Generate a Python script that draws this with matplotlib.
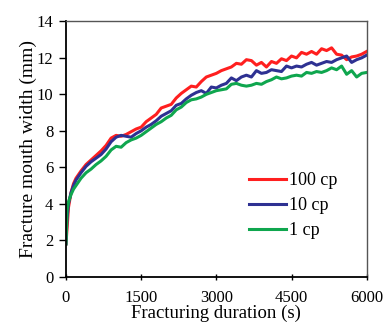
import matplotlib
matplotlib.use("Agg")
import matplotlib.pyplot as plt

t = [0, 20, 50, 100, 150, 200] + list(range(300, 6001, 100))

red_100cp = [1.8, 2.6, 3.8, 4.6, 5.1, 5.4, 5.8, 6.15, 6.4, 6.65, 6.9, 7.2, 7.6, 7.75,
             7.7, 7.8, 7.95, 8.1, 8.2, 8.5, 8.7, 8.9, 9.25, 9.35, 9.45, 9.8, 10.05,
             10.25, 10.45, 10.4, 10.7, 10.95, 11.05, 11.15, 11.3, 11.4, 11.5, 11.7,
             11.65, 11.9, 11.85, 11.6, 11.75, 11.5, 11.8, 11.7, 11.95, 11.85, 12.1,
             12.0, 12.3, 12.2, 12.35, 12.2, 12.5, 12.4, 12.55, 12.2, 12.15, 11.9,
             12.05, 12.1, 12.2, 12.35]
blue_10cp = [1.8, 3.2, 4.0, 4.6, 5.0, 5.3, 5.7, 6.05, 6.3, 6.5, 6.7, 7.0, 7.4, 7.65,
             7.75, 7.7, 7.65, 7.85, 8.0, 8.2, 8.35, 8.55, 8.8, 8.95, 9.1, 9.4, 9.5,
             9.75, 9.95, 10.1, 10.2, 10.05, 10.4, 10.35, 10.5, 10.6, 10.9, 10.75,
             10.95, 11.05, 10.95, 11.3, 11.15, 11.2, 11.35, 11.3, 11.25, 11.55, 11.45,
             11.55, 11.5, 11.65, 11.75, 11.6, 11.7, 11.8, 11.75, 11.9, 12.0, 12.1,
             11.75, 11.9, 12.0, 12.15]
green_1cp = [1.8, 3.6, 4.1, 4.5, 4.8, 5.0, 5.4, 5.7, 5.9, 6.15, 6.35, 6.6, 6.95, 7.15,
             7.1, 7.35, 7.5, 7.6, 7.75, 7.95, 8.15, 8.35, 8.5, 8.7, 8.85, 9.15, 9.3,
             9.55, 9.7, 9.75, 9.85, 10.0, 10.1, 10.2, 10.25, 10.3, 10.55, 10.6, 10.5,
             10.45, 10.5, 10.6, 10.55, 10.7, 10.8, 10.95, 10.85, 10.9, 11.0, 11.05,
             11.0, 11.2, 11.15, 11.25, 11.2, 11.3, 11.45, 11.35, 11.55, 11.1, 11.3,
             10.95, 11.15, 11.2]

labels = ["100 cp", "10 cp", "1 cp"]
colors = ["#FF1F1F", "#2E3192", "#0FA64E"]
xticks = [0, 1500, 3000, 4500, 6000]
yticks = [0, 2, 4, 6, 8, 10, 12, 14]

plt.rcParams['font.family'] = ['Liberation Serif', 'DejaVu Serif']

fig = plt.figure(figsize=(3.85, 3.24), dpi=100)
ax = fig.add_axes([0.1714, 0.146, 0.781, 0.788])

for ys, lab, c in zip([red_100cp, blue_10cp, green_1cp], labels, colors):
    ax.plot(t, ys, color=c, lw=2.2, label=lab)

ax.set_xlim(0, 6000)
ax.set_ylim(0, 14)
ax.set_xticks(xticks)
ax.set_yticks(yticks)
ax.tick_params(axis='x', direction='inout', length=5, width=1, labelsize=12, pad=7)
ax.tick_params(axis='y', direction='out', length=5, width=1, labelsize=12, pad=4)
for s in ['left', 'bottom']:
    ax.spines[s].set_color('black')
    ax.spines[s].set_linewidth(1.3)
for s in ['top', 'right']:
    ax.spines[s].set_color('#555555')
    ax.spines[s].set_linewidth(1.0)

ax.set_xlabel("Fracturing duration (s)", fontsize=13.5, labelpad=-1)
ax.set_ylabel("Fracture mouth width (mm)", fontsize=14, labelpad=0)

ax.legend(loc='upper left', bbox_to_anchor=(0.608, 0.41), frameon=False,
          fontsize=13, handlelength=2.05, handletextpad=0.2, labelspacing=0.45,
          borderaxespad=0, borderpad=0)

fig.savefig("out.png", dpi=100)
